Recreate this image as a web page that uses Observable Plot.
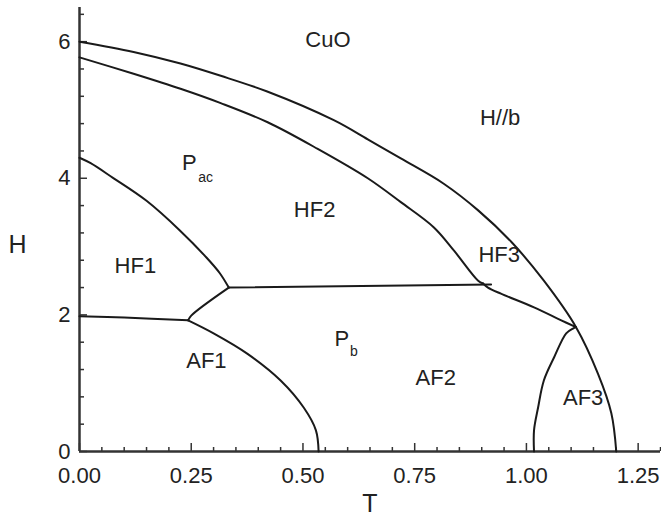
<!DOCTYPE html>
<html>
<head>
<meta charset="utf-8">
<script src="https://cdn.jsdelivr.net/npm/d3@7"></script>
<script src="https://cdn.jsdelivr.net/npm/@observablehq/plot@0.6"></script>
<style>
  html, body { margin: 0; padding: 0; background: #fff; }
  #chart svg { display: block; }
</style>
</head>
<body>
<div id="chart"></div>
<script>
// ---- Phase boundaries (T, H) ----
const outerT = [0, 0.121, 0.226, 0.316, 0.420, 0.569, 0.645, 0.719, 0.815, 0.892, 0.966, 1.039, 1.111, 1.160, 1.190, 1.201];
const outerH = [6.00, 5.85, 5.68, 5.50, 5.27, 4.85, 4.57, 4.29, 3.92, 3.53, 3.07, 2.50, 1.82, 1.14, 0.56, 0.00];

const innerT = [0, 0.121, 0.226, 0.316, 0.421, 0.533, 0.645, 0.719, 0.793, 0.838, 0.892, 0.903];
const innerH = [5.77, 5.53, 5.31, 5.10, 4.82, 4.43, 4.00, 3.65, 3.28, 2.94, 2.50, 2.46];

const hf1T = [0, 0.025, 0.074, 0.150, 0.224, 0.284, 0.314, 0.334];
const hf1H = [4.30, 4.22, 4.01, 3.67, 3.24, 2.84, 2.61, 2.40];

const midLineT = [0.334, 0.921];
const midLineH = [2.40, 2.445];

const branchT = [0.334, 0.250, 0.243];
const branchH = [2.40, 1.99, 1.92];

const lowLineT = [0, 0.10, 0.243];
const lowLineH = [1.98, 1.96, 1.92];

const af1T = [0.243, 0.300, 0.376, 0.450, 0.502, 0.529, 0.535];
const af1H = [1.92, 1.73, 1.43, 1.04, 0.64, 0.31, 0.00];

const hf3LowT = [0.903, 0.914, 0.943, 1.017, 1.078, 1.111];
const hf3LowH = [2.46, 2.40, 2.31, 2.11, 1.92, 1.82];

const af3T = [1.111, 1.104, 1.089, 1.062, 1.039, 1.026, 1.017, 1.017];
const af3H = [1.82, 1.80, 1.73, 1.38, 1.04, 0.64, 0.31, 0.00];

// ---- Region labels ----
const regionText = ["CuO", "H//b", "P", "HF2", "HF1", "HF3", "P", "AF1", "AF2", "AF3"];
const regionT    = [0.556, 0.941, 0.246, 0.526, 0.125, 0.939, 0.587, 0.284, 0.797, 1.127];
const regionH    = [6.02, 4.89, 4.22, 3.53, 2.71, 2.88, 1.65, 1.33, 1.08, 0.79];

const subText = ["ac", "b"];
const subT    = [0.282, 0.614];
const subH    = [4.01, 1.46];

// ---- Axes ----
const xMajor = [0, 0.25, 0.5, 0.75, 1.0, 1.25];
const xMinor = d3.range(0, 1.3001, 0.05).map(v => +v.toFixed(2)).filter(v => !xMajor.includes(v));
const yMajor = [0, 2, 4, 6];
const yMinor = d3.range(0, 6.5, 0.4).map(v => +v.toFixed(1)).filter(v => !yMajor.includes(v));
const axisTitles = ["T", "H"];

// ---- Build tables ----
const boundaries = [
  ["outer", outerT, outerH],
  ["inner", innerT, innerH],
  ["hf1", hf1T, hf1H],
  ["mid", midLineT, midLineH],
  ["branch", branchT, branchH],
  ["low", lowLineT, lowLineH],
  ["af1", af1T, af1H],
  ["hf3low", hf3LowT, hf3LowH],
  ["af3", af3T, af3H]
];
const rows = boundaries.flatMap(([name, T, H]) => T.map((t, i) => ({name, T: t, H: H[i]})));
const regions = regionText.map((s, i) => ({s, T: regionT[i], H: regionH[i]}));
const subs = subText.map((s, i) => ({s, T: subT[i], H: subH[i]}));

const W = 661, Hgt = 523;
const mL = 79, mR = 1, mT = 7, mB = 72;
const plotW = W - mL - mR, plotH = Hgt - mT - mB;
const ink = "#1a1a1a", axisInk = "#333";

const chart = Plot.plot({
  width: W,
  height: Hgt,
  marginLeft: mL,
  marginRight: mR,
  marginTop: mT,
  marginBottom: mB,
  style: {fontFamily: "'Liberation Sans', Arial, Helvetica, sans-serif", background: "#fff", color: ink},
  x: {domain: [0, 1.3]},
  y: {domain: [0, 6.5]},
  marks: [
    Plot.axisX({ticks: xMajor, tickSize: 0, tickPadding: 16, tickFormat: d3.format(".2f"), fontSize: 22, label: null, fill: "#222"}),
    Plot.axisY({ticks: yMajor, tickSize: 0, tickPadding: 9, tickFormat: d => String(d), fontSize: 22, label: null, fill: "#222"}),
    Plot.tickX(xMinor, {x: d => d, insetTop: plotH - 4, stroke: axisInk, strokeWidth: 1.5}),
    Plot.tickX(xMajor, {x: d => d, insetTop: plotH - 8, stroke: axisInk, strokeWidth: 1.5}),
    Plot.tickY(yMinor, {y: d => d, insetRight: plotW - 5, stroke: axisInk, strokeWidth: 1.5}),
    Plot.tickY(yMajor, {y: d => d, insetRight: plotW - 8, stroke: axisInk, strokeWidth: 1.5}),
    Plot.ruleY([0], {stroke: axisInk, strokeWidth: 2.5}),
    Plot.ruleX([0], {stroke: axisInk, strokeWidth: 2.5}),
    Plot.line(rows, {x: "T", y: "H", z: "name", curve: "catmull-rom", stroke: ink, strokeWidth: 2}),
    Plot.text(regions, {x: "T", y: "H", text: "s", fontSize: 22, fill: "#222"}),
    Plot.text(subs, {x: "T", y: "H", text: "s", fontSize: 14, fill: "#222"}),
    Plot.text([axisTitles[0]], {frameAnchor: "bottom", textAnchor: "middle", dy: 60, fontSize: 25, fill: "#222"}),
    Plot.text([axisTitles[1]], {frameAnchor: "left", textAnchor: "middle", dx: -62, dy: 15, fontSize: 25, fill: "#222"})
  ]
});
document.getElementById("chart").appendChild(chart);
</script>
</body>
</html>
